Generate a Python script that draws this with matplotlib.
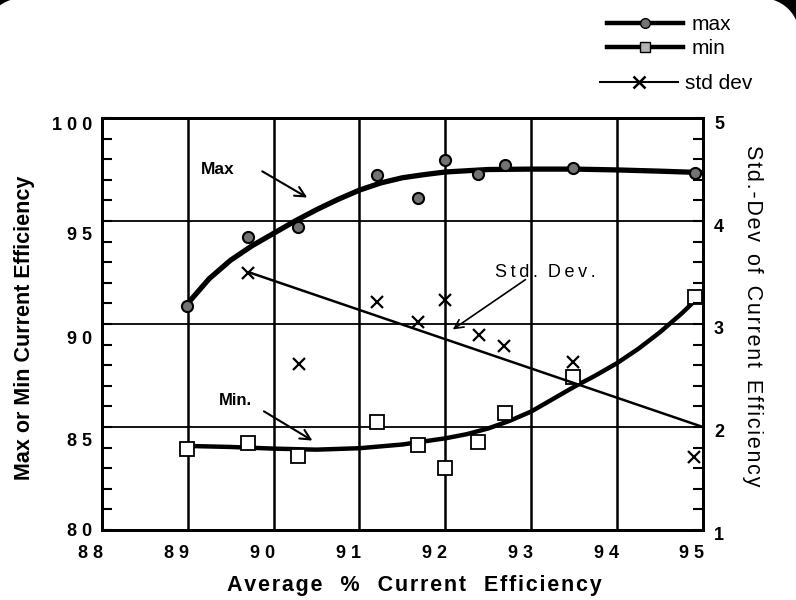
import matplotlib
matplotlib.use("Agg")
import matplotlib.pyplot as plt
import matplotlib.transforms as mtransforms
from matplotlib.patches import FancyBboxPatch
from matplotlib.ticker import MultipleLocator, FuncFormatter

plt.rcParams['font.family'] = ['Liberation Sans', 'DejaVu Sans']

# measured points
pts_x = [88.99, 89.70, 90.29, 91.20, 91.68, 92.00, 92.38, 92.69, 93.49, 94.91]
max_y = [90.87, 94.22, 94.71, 97.23, 96.12, 97.96, 97.28, 97.72, 97.57, 97.34]
min_y = [83.93, 84.24, 83.59, 85.26, 84.13, 83.02, 84.25, 85.69, 87.44, 91.30]
std_x = [89.70, 90.30, 91.20, 91.68, 92.00, 92.39, 92.68, 93.49, 94.90]
std_y = [3.50, 2.61, 3.21, 3.02, 3.23, 2.89, 2.79, 2.63, 1.71]

# fitted curves
maxfit_x = [89.0, 89.25, 89.5, 89.75, 90.0, 90.25, 90.5, 90.75, 91.0, 91.25,
            91.5, 91.75, 92.0, 92.5, 93.0, 93.5, 94.0, 94.5, 95.0]
maxfit_y = [91.0, 92.2, 93.1, 93.8, 94.4, 95.0, 95.55, 96.05, 96.5, 96.85,
            97.1, 97.25, 97.38, 97.5, 97.52, 97.52, 97.48, 97.42, 97.35]
minfit_x = [89.0, 89.5, 90.0, 90.5, 91.0, 91.5, 92.0, 92.25, 92.5, 92.75,
            93.0, 93.25, 93.5, 93.75, 94.0, 94.25, 94.5, 94.75, 95.0]
minfit_y = [84.08, 84.03, 83.95, 83.9, 83.97, 84.15, 84.45, 84.65, 84.93, 85.3,
            85.75, 86.35, 86.95, 87.5, 88.1, 88.8, 89.6, 90.5, 91.5]
stdfit_x = [89.72, 95.0]
stdfit_y = [3.5, 2.0]

xticks = [88, 89, 90, 91, 92, 93, 94, 95]
yticks = [80, 85, 90, 95, 100]
y2ticks = [1, 2, 3, 4, 5]

THIN = "\u2009"
HAIR = "\u200a"

def spread(s, gap="   ", sep=THIN):
    # letter-spaced text like the scanned original
    return gap.join(sep.join(w) for w in s.split(" "))

fig = plt.figure(figsize=(7.96, 6), dpi=100)
fig.patch.set_facecolor('black')
bg = FancyBboxPatch((-0.17, -1.0), 8.18, 7.034, boxstyle="round,pad=0,rounding_size=0.5",
                    transform=fig.dpi_scale_trans, facecolor='white', edgecolor='none', zorder=-5)
fig.patches.append(bg)

ax = fig.add_axes([0.128, 0.1167, 0.755, 0.6866])
ax2 = ax.twinx()

ax.set_xlim(88, 95)
ax.set_ylim(80, 100)
ax2.set_ylim(1, 5)

# grid
for v in xticks[1:-1]:
    ax.axvline(v, color='black', lw=1.8, zorder=1)
for v in yticks[1:-1]:
    ax.axhline(v, color='black', lw=1.3, zorder=1)

ax.plot(maxfit_x, maxfit_y, color='black', lw=3.8, solid_capstyle='round', zorder=3)
ax.plot(minfit_x, minfit_y, color='black', lw=3.2, solid_capstyle='round', zorder=3)
ax.plot(pts_x, max_y, 'o', ms=8, mfc='0.45', mec='black', mew=1.5, zorder=4)
ax.plot(pts_x, min_y, 's', ms=10, mfc='white', mec='black', mew=1.3, zorder=4)
ax2.plot(stdfit_x, stdfit_y, color='black', lw=1.8)
ax2.plot(std_x, std_y, 'x', ms=9, mec='black', mew=1.6)

for sp in ax.spines.values():
    sp.set_linewidth(2)
    sp.set_zorder(5)

def spaced(v, pos):
    return " ".join(str(int(v)))

ax.set_xticks(xticks)
ax.set_yticks(yticks)
ax.yaxis.set_minor_locator(MultipleLocator(1))
ax.xaxis.set_major_formatter(FuncFormatter(spaced))
ax.yaxis.set_major_formatter(FuncFormatter(spaced))
ax.tick_params(axis='x', length=0, pad=10.5, labelsize=13)
ax.tick_params(axis='y', which='both', direction='in', length=7, width=1.5, pad=7, labelsize=13)
for lab in ax.get_xticklabels():
    lab.set_fontweight('bold')
    lab.set_transform(lab.get_transform() + mtransforms.ScaledTranslation(-0.11, 0, fig.dpi_scale_trans))
y_off = [0.0, -0.13, -0.13, -0.12, -0.05]
for lab, off in zip(ax.get_yticklabels(), y_off):
    lab.set_fontweight('bold')
    lab.set_transform(lab.get_transform() + mtransforms.ScaledTranslation(0, off, fig.dpi_scale_trans))

ax2.set_yticks(y2ticks)
ax2.yaxis.set_minor_locator(MultipleLocator(0.2))
ax2.tick_params(axis='y', which='both', direction='in', length=7, width=1.5, pad=8, labelsize=13)
for lab in ax2.get_yticklabels():
    lab.set_fontweight('bold')
    lab.set_transform(lab.get_transform() + mtransforms.ScaledTranslation(0, -0.04, fig.dpi_scale_trans))
for sp in ax2.spines.values():
    sp.set_linewidth(2)

ax.set_xlabel(spread("Average % Current Efficiency", gap="   ", sep=HAIR),
              fontsize=15.5, fontweight='bold', labelpad=10)
ax.xaxis.label.set_x(0.52)
ax.set_ylabel("Max or Min Current Efficiency", fontsize=15.5, fontweight='bold', labelpad=12)
ax.yaxis.label.set_y(0.49)
ax2.set_ylabel(spread("Std.-Dev of Current Efficiency", gap="  ", sep=HAIR),
               fontsize=15.5, rotation=-90, labelpad=28)
ax2.yaxis.label.set_y(0.52)

# annotations
ax.text(89.35, 97.48, "Max", fontsize=12.5, fontweight='bold', ha='center', va='center')
ax.annotate("", xy=(90.42, 96.07), xytext=(89.84, 97.48),
            arrowprops=dict(arrowstyle='->', lw=1.5, color='black', mutation_scale=18))
ax.text(89.56, 86.31, "Min.", fontsize=12, fontweight='bold', ha='center', va='center')
ax.annotate("", xy=(90.48, 84.27), xytext=(89.86, 85.83),
            arrowprops=dict(arrowstyle='->', lw=1.5, color='black', mutation_scale=18))
ax.text(93.17, 92.48, spread("Std. Dev.", gap="  "), fontsize=13, ha='center', va='center')
ax.annotate("", xy=(92.06, 89.66), xytext=(92.96, 92.23),
            arrowprops=dict(arrowstyle='->', lw=1.2, color='black', mutation_scale=16))

# legend
h1, = ax.plot([], [], '-o', color='black', lw=3.2, ms=7, mfc='0.45', mec='black')
h2, = ax.plot([], [], '-s', color='black', lw=3.2, ms=7, mfc='0.7', mec='black')
h3, = ax.plot([], [], '-x', color='black', lw=1.5, ms=8, mew=1.8)
fig.legend([h1, h2], ["max", "min"], loc='upper left',
           bbox_to_anchor=(0.7626, 0.975), frameon=False, fontsize=15,
           handlelength=3.65, handletextpad=0.4, labelspacing=0.25, borderpad=0, borderaxespad=0)
fig.legend([h3], ["std dev"], loc='upper left',
           bbox_to_anchor=(0.754, 0.877), frameon=False, fontsize=15,
           handlelength=3.75, handletextpad=0.3, borderpad=0, borderaxespad=0)

fig.savefig("out.png", dpi=100)
